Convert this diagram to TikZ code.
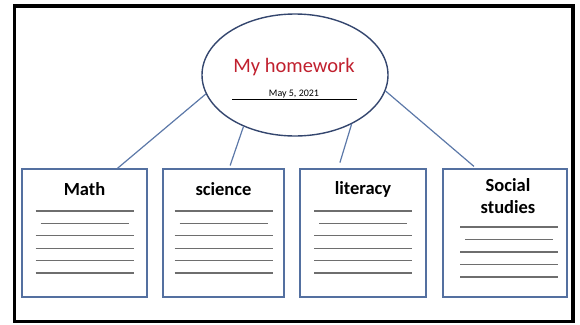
\documentclass[tikz,border=0pt]{standalone}
\usepackage{fontspec}
\setmainfont{Carlito}
\usetikzlibrary{positioning, shapes.geometric}

\definecolor{navy}{HTML}{34466E}
\definecolor{boxblue}{HTML}{5470A0}
\definecolor{linkblue}{HTML}{5C78A8}
\definecolor{titlered}{HTML}{C0202E}
\definecolor{rule}{HTML}{6E6E6E}

\begin{document}
\begin{tikzpicture}[
        x=1pt, y=-1pt,
        subject/.style={draw=boxblue, line width=1.3pt, minimum width=125pt, minimum height=128pt},
        heading/.style={font=\fontsize{18.5}{21}\selectfont\bfseries, align=center},
        link/.style={draw=linkblue, line width=1.2pt}
    ]

    \useasboundingbox (0,0) rectangle (580,324);
    \draw[line width=3.5pt] (14.5,6) rectangle (573,321.5);

    % Central topic
    \node[ellipse, draw=navy, line width=1.4pt, minimum width=186pt, minimum height=122pt] (topic) at (295,75) {};
    \node[text=titlered, font=\fontsize{20.5}{24}\selectfont] (title) at (294,67) {My homework};
    \node[font=\fontsize{10}{12}\selectfont] (date) at (294,94) {May 5, 2021};
    \draw[line width=1.2pt] (232,99.5) -- (357,99.5);

    % Subject boxes
    \node[subject] (math) at (84.5,233) {};
    \node[subject, minimum width=121pt] (science) at (223.5,233) {};
    \node[subject, minimum width=126pt] (literacy) at (363,233) {};
    \node[subject, minimum width=124pt] (social) at (505,233) {};

    \node[heading] (mathT) at (84.5,189) {Math};
    \node[heading] (scienceT) at (223.5,189) {science};
    \node[heading] (literacyT) at (363,189) {literacy};
    \node[heading] (socialT) at (508,196) {Social\\[1pt]studies};

    % Writing lines
    \foreach \b/\cx in {math/84.5, science/223.5, literacy/363} {
        \foreach \k in {0,...,5} {
            \pgfmathsetmacro\yy{211+12.4*\k}
            \ifnum\k=1
                \draw[rule, line width=1.3pt] (\cx-44,\yy) -- (\cx+44,\yy);
            \else
                \draw[rule, line width=1.3pt] (\cx-49,\yy) -- (\cx+49,\yy);
            \fi
        }
    }
    \foreach \k in {0,...,4} {
        \pgfmathsetmacro\yy{227+12.5*\k}
        \ifnum\k=1
            \draw[rule, line width=1.3pt] (465,\yy) -- (553,\yy);
        \else
            \draw[rule, line width=1.3pt] (460,\yy) -- (558,\yy);
        \fi
    }

    % Connectors
    \draw[link] (topic.192) -- (math.63);
    \draw[link, shorten >=3pt] (topic.225) -- (science.85);
    \draw[link, shorten >=6pt] (topic.319) -- (literacy.111);
    \draw[link, shorten >=3pt] (topic.350) -- (social.114);

\end{tikzpicture}
\end{document}
